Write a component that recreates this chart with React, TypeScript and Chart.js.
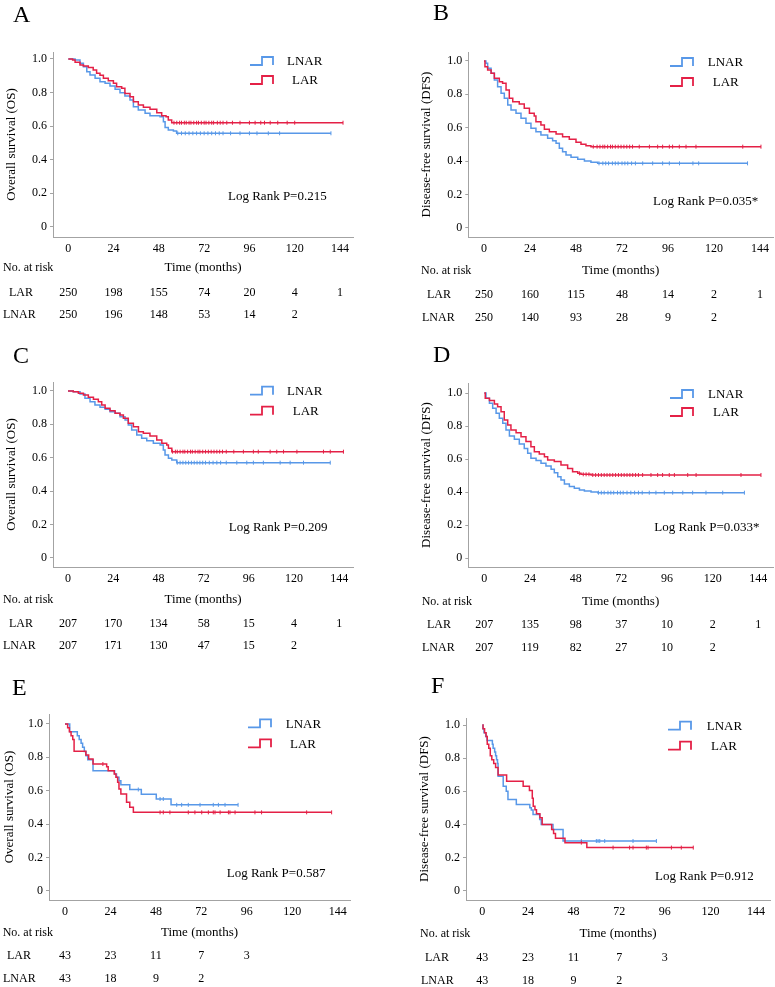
import React, { useEffect, useRef } from "react";
import { Chart, registerables } from "chart.js";

Chart.register(...registerables);

type Pt = [number, number];

// ---------- shared axis ticks ----------
const TIME_TICKS = [0, 24, 48, 72, 96, 120, 144];
const SURV_TICKS = [0, 0.2, 0.4, 0.6, 0.8, 1.0];

// ---------- Panel A (OS, all) ----------
const A_LAR: Pt[] = [[0,1],[2.3,0.994],[3.6,0.98],[6.2,0.964],[8,0.958],[10.6,0.95],[13.2,0.934],[15,0.915],[16.8,0.903],[18.6,0.885],[21.2,0.871],[23.9,0.855],[25.6,0.835],[28.3,0.825],[30,0.795],[32.7,0.775],[34.5,0.745],[37.1,0.726],[39.8,0.712],[43.3,0.7],[46.9,0.68],[49.5,0.662],[51.8,0.656],[53,0.636],[54.8,0.62],[145.6,0.62]];
const A_LNAR: Pt[] = [[0,1],[3.6,0.994],[6.2,0.974],[8,0.954],[9.8,0.924],[11.5,0.904],[14.2,0.885],[16.8,0.865],[19.5,0.855],[22.1,0.839],[24.8,0.819],[27.4,0.799],[30,0.779],[32.7,0.755],[34.5,0.716],[37.1,0.696],[40.7,0.676],[43.3,0.662],[48.6,0.656],[50.4,0.626],[51.3,0.592],[53,0.576],[55.7,0.57],[57.4,0.557],[139.2,0.557]];
const A_LAR_CENS = [56,57.5,59,60,61.5,62.5,64,65,66.5,68,69,70.5,72,73,74.5,76,77,79,80.5,82,84,87,91,96,99,102,104,107,111,116,120,145.6];
const A_LNAR_CENS = [58,60,62,64,66,68,70,72,74,76,78,80,82,86,91,96,100,106,112,139.2];
const A_RISK_LAR = [250,198,155,74,20,4,1];
const A_RISK_LNAR = [250,196,148,53,14,2];

// ---------- Panel B (DFS, all) ----------
const B_LAR: Pt[] = [[0,1],[0.5,0.966],[1.9,0.946],[3.7,0.926],[5.4,0.896],[8,0.876],[9.7,0.866],[11.5,0.826],[13.2,0.776],[15,0.756],[18.4,0.742],[21,0.716],[23.7,0.686],[26.2,0.67],[27.1,0.636],[29.7,0.616],[31.5,0.59],[34.1,0.576],[37.6,0.562],[41,0.546],[44.5,0.53],[48,0.512],[50.6,0.5],[53.2,0.492],[55.8,0.486],[144.5,0.486]];
const B_LNAR: Pt[] = [[0,1],[1,0.986],[1.9,0.956],[3.7,0.926],[5.4,0.886],[7.1,0.846],[8.9,0.806],[10.6,0.776],[12.4,0.736],[14.1,0.706],[16.7,0.686],[19.3,0.656],[21.9,0.626],[24.5,0.596],[27.1,0.576],[29.7,0.556],[33.2,0.536],[35.8,0.522],[37.6,0.506],[39.3,0.476],[41,0.456],[42.8,0.436],[45.4,0.422],[48.9,0.41],[52.4,0.4],[55.8,0.392],[59.3,0.386],[137.5,0.386]];
const B_LAR_CENS = [57,59,60.5,62,63,64.5,66,67,68.5,70,71.5,73,74.5,76,77.5,81,86.3,90.6,93.2,96.7,98.4,101.9,105.4,110.6,135,144.5];
const B_LNAR_CENS = [60,62,63.5,65,67,68.5,70,72,73.5,75,77,79,82.8,88,93.2,96.7,102,109,112,137.5];
const B_RISK_LAR = [250,160,115,48,14,2,1];
const B_RISK_LNAR = [250,140,93,28,9,2];

// ---------- Panel C (OS, matched) ----------
const C_LAR: Pt[] = [[0,1],[2.8,0.996],[5.5,0.986],[8.2,0.976],[10.8,0.962],[13.5,0.95],[16.1,0.936],[17.9,0.916],[19.7,0.896],[22.3,0.882],[25,0.866],[27.6,0.856],[29.4,0.836],[32,0.806],[34.7,0.786],[37.4,0.756],[40,0.746],[43.5,0.73],[47.1,0.706],[49.8,0.686],[52.4,0.676],[53.3,0.656],[55.1,0.636],[146.2,0.636]];
const C_LNAR: Pt[] = [[0,1],[2.8,0.996],[6.4,0.982],[9,0.956],[11.7,0.936],[14.3,0.916],[17,0.902],[19.7,0.89],[22.3,0.876],[25,0.866],[27.6,0.846],[30.3,0.826],[32,0.796],[33.8,0.766],[36.5,0.736],[39.1,0.716],[41.8,0.702],[45.3,0.686],[48.9,0.676],[50.6,0.646],[51.5,0.616],[53.3,0.596],[55.1,0.586],[57.7,0.57],[139.2,0.57]];
const C_LAR_CENS = [55.5,57,58,59.5,61,62,63.5,65,66,67.5,69,70,71.5,73,74.5,76,77.5,79,80.5,82,84,88,93.1,98.4,101,107.3,110.8,114.4,121.5,135.6,139.2,146.2];
const C_LNAR_CENS = [58,59.5,61,62.5,64,65.5,67,68.5,70,71.5,73,75,77,79,81,84,89.6,94.9,98.4,103.7,112.6,117.9,125,139.2];
const C_RISK_LAR = [207,170,134,58,15,4,1];
const C_RISK_LNAR = [207,171,130,47,15,2];

// ---------- Panel D (DFS, matched) ----------
const D_LAR: Pt[] = [[0,1],[0.5,0.968],[2.7,0.954],[5.3,0.934],[7,0.917],[8.8,0.887],[10.5,0.837],[12.3,0.806],[14,0.776],[16.7,0.76],[19.3,0.736],[21.9,0.706],[24.5,0.675],[26.3,0.645],[28.9,0.631],[31.6,0.615],[33.3,0.595],[36.8,0.585],[40.3,0.564],[43.8,0.544],[46.4,0.524],[49.1,0.514],[50.8,0.508],[56.1,0.504],[145.4,0.504]];
const D_LNAR: Pt[] = [[0,1],[0.9,0.968],[2.7,0.938],[4.4,0.907],[6.2,0.877],[7.9,0.847],[9.7,0.817],[11.4,0.776],[13.2,0.74],[15.8,0.72],[18.4,0.692],[21,0.665],[22.8,0.635],[24.5,0.605],[27.2,0.591],[29.8,0.575],[32.4,0.559],[35.1,0.539],[36.8,0.518],[38.6,0.494],[40.3,0.474],[42.1,0.45],[44.7,0.434],[47.3,0.424],[50,0.413],[52.6,0.407],[56.1,0.401],[59.6,0.397],[136.7,0.397]];
const D_LAR_CENS = [50,52,53.5,55,57,58.5,60,61.5,63,64.5,66,67.5,69,70.5,72,73.5,75,76.5,78,79.5,81,83.2,87.6,91.1,93.7,97.2,99.9,106.9,111.3,134.9,145.4];
const D_LNAR_CENS = [60,61.5,63,65,66.5,68,70,71.5,73,75,77,79,81,83,86.7,90.2,94.6,99,104.3,109.5,116.5,125.3,136.7];
const D_RISK_LAR = [207,135,98,37,10,2,1];
const D_RISK_LNAR = [207,119,82,27,10,2];

// ---------- Panel E (OS, subgroup) ----------
const E_LAR: Pt[] = [[0,1],[1.4,0.977],[2.3,0.953],[3.2,0.93],[4.1,0.907],[4.8,0.837],[11,0.814],[12.5,0.79],[14.8,0.76],[22,0.744],[22.8,0.72],[26,0.7],[26.9,0.68],[27.8,0.65],[28.5,0.61],[29.5,0.58],[32.5,0.53],[34.2,0.5],[36.1,0.47],[140.8,0.47]];
const E_LNAR: Pt[] = [[0,1],[2.5,0.953],[6.5,0.93],[7.5,0.907],[8.5,0.884],[9.3,0.86],[10.2,0.835],[11.1,0.81],[12,0.785],[14.8,0.72],[26.2,0.7],[27.2,0.68],[28.5,0.66],[29.5,0.635],[34.2,0.607],[40.3,0.578],[48.2,0.55],[56,0.515],[91.4,0.515]];
const E_LAR_CENS = [20,50.2,51.9,55.4,65.1,68.6,72.2,75.7,78.3,79.2,81.9,86.3,87.1,89.8,100.3,103.8,127.6,140.8];
const E_LNAR_CENS = [38.7,50.2,51.9,59,61.6,65.1,71.3,78.3,81,84.5,91.4];
const E_RISK_LAR = [43,23,11,7,3];
const E_RISK_LNAR = [43,18,9,2];

// ---------- Panel F (DFS, subgroup) ----------
const F_LAR: Pt[] = [[0,1],[0.4,0.977],[1.2,0.953],[2,0.93],[2.6,0.884],[3.4,0.86],[4.2,0.814],[5,0.79],[6,0.767],[7,0.744],[8.3,0.698],[12.8,0.66],[21.5,0.63],[24.8,0.605],[26.3,0.558],[26.8,0.51],[27.7,0.488],[28.5,0.465],[30.3,0.44],[31.5,0.4],[36.5,0.37],[37.5,0.345],[38.5,0.316],[43.5,0.29],[55,0.26],[111,0.26]];
const F_LNAR: Pt[] = [[0,1],[0.3,0.977],[0.9,0.953],[1.8,0.93],[2.5,0.907],[5.3,0.884],[5.7,0.86],[6.5,0.837],[7,0.814],[7.5,0.79],[8,0.767],[8.3,0.69],[11,0.63],[12.6,0.6],[13.5,0.55],[17.9,0.52],[25,0.5],[25.8,0.487],[26.7,0.46],[30.2,0.43],[31,0.4],[37.2,0.37],[42.5,0.3],[91.6,0.3]];
const F_LAR_CENS = [52.1,68.8,77.5,79.3,86.3,87.2,99.5,104.7,111];
const F_LNAR_CENS = [52.1,60,60.9,61.8,64.4,79.3,91.6];
const F_RISK_LAR = [43,23,11,7,3];
const F_RISK_LNAR = [43,18,9,2];

const OS_TITLE = "Overall survival (OS)";
const DFS_TITLE = "Disease-free survival (DFS)";

// ---------- styling / layout ----------
const FONT = '"Liberation Serif", "Times New Roman", serif';
const BLUE = "rgb(88,152,232)";
const RED = "rgb(228,32,70)";
const AXIS = "#a3a3a3";

interface PanelCfg {
  letter: string;
  x: number; y: number; w: number; h: number;
  area: { l: number; t: number; r: number; b: number };
  x0: number; x144: number; y1: number; y0: number;
  letterX: number; letterY: number;
  yTitle: string; yTitleX: number; xTitleY: number;
  legGlyphX: number; legTextX: [number, number]; legY: [number, number];
  logRank: string; lrX: number; lrY: number;
  riskHeadX: number; riskLabX: [number, number]; riskY: [number, number];
  lar: Pt[]; lnar: Pt[]; larC: number[]; lnarC: number[];
  riskLar: number[]; riskLnar: number[];
}

const PANELS: PanelCfg[] = [
  { letter: "A", x: 0, y: 0, w: 385, h: 330, area: { l: 53, t: 52, r: 353, b: 237 }, x0: 68.3, x144: 340, y1: 59, y0: 226.7,
    letterX: 13, letterY: 21.5, yTitle: OS_TITLE, yTitleX: 12, xTitleY: 268,
    legGlyphX: 250, legTextX: [287, 292], legY: [62, 81], logRank: "Log Rank P=0.215", lrX: 228, lrY: 197,
    riskHeadX: 3, riskLabX: [9, 3], riskY: [293, 315],
    lar: A_LAR, lnar: A_LNAR, larC: A_LAR_CENS, lnarC: A_LNAR_CENS, riskLar: A_RISK_LAR, riskLnar: A_RISK_LNAR },
  { letter: "B", x: 385, y: 0, w: 390, h: 330, area: { l: 83.3, t: 52, r: 388, b: 237 }, x0: 99, x144: 375, y1: 61, y0: 227.7,
    letterX: 48, letterY: 20, yTitle: DFS_TITLE, yTitleX: 41.7, xTitleY: 271,
    legGlyphX: 285, legTextX: [322.7, 327.7], legY: [63, 83], logRank: "Log Rank P=0.035*", lrX: 268, lrY: 202,
    riskHeadX: 36, riskLabX: [42, 37], riskY: [295, 318],
    lar: B_LAR, lnar: B_LNAR, larC: B_LAR_CENS, lnarC: B_LNAR_CENS, riskLar: B_RISK_LAR, riskLnar: B_RISK_LNAR },
  { letter: "C", x: 0, y: 320, w: 385, h: 340, area: { l: 53, t: 62, r: 353, b: 247 }, x0: 68, x144: 339.3, y1: 71, y0: 237.7,
    letterX: 13, letterY: 43, yTitle: OS_TITLE, yTitleX: 12, xTitleY: 280,
    legGlyphX: 250, legTextX: [287, 292.7], legY: [71.7, 91.7], logRank: "Log Rank P=0.209", lrX: 228.7, lrY: 207.3,
    riskHeadX: 3, riskLabX: [9, 3], riskY: [304, 326],
    lar: C_LAR, lnar: C_LNAR, larC: C_LAR_CENS, lnarC: C_LNAR_CENS, riskLar: C_RISK_LAR, riskLnar: C_RISK_LNAR },
  { letter: "D", x: 385, y: 320, w: 390, h: 340, area: { l: 83.3, t: 63, r: 388, b: 247 }, x0: 99.3, x144: 373.3, y1: 73, y0: 238.3,
    letterX: 48, letterY: 42, yTitle: DFS_TITLE, yTitleX: 41.7, xTitleY: 282,
    legGlyphX: 285, legTextX: [323, 328], legY: [75, 93], logRank: "Log Rank P=0.033*", lrX: 269.3, lrY: 207.3,
    riskHeadX: 36.7, riskLabX: [42, 37], riskY: [305, 328],
    lar: D_LAR, lnar: D_LNAR, larC: D_LAR_CENS, lnarC: D_LNAR_CENS, riskLar: D_RISK_LAR, riskLnar: D_RISK_LNAR },
  { letter: "E", x: 0, y: 640, w: 385, h: 347, area: { l: 49, t: 74, r: 350, b: 260 }, x0: 65, x144: 337.7, y1: 84, y0: 250.7,
    letterX: 12, letterY: 55, yTitle: OS_TITLE, yTitleX: 10, xTitleY: 293,
    legGlyphX: 248, legTextX: [285.7, 290], legY: [84.3, 104.3], logRank: "Log Rank P=0.587", lrX: 226.7, lrY: 233.3,
    riskHeadX: 2.7, riskLabX: [7, 3], riskY: [316, 339.3],
    lar: E_LAR, lnar: E_LNAR, larC: E_LAR_CENS, lnarC: E_LNAR_CENS, riskLar: E_RISK_LAR, riskLnar: E_RISK_LNAR },
  { letter: "F", x: 385, y: 640, w: 390, h: 347, area: { l: 81, t: 78, r: 385, b: 260 }, x0: 97.3, x144: 371, y1: 85, y0: 250.7,
    letterX: 46, letterY: 53, yTitle: DFS_TITLE, yTitleX: 40, xTitleY: 294,
    legGlyphX: 283, legTextX: [321.7, 326], legY: [86.7, 106.7], logRank: "Log Rank P=0.912", lrX: 270, lrY: 236.7,
    riskHeadX: 35, riskLabX: [40, 36], riskY: [318.3, 340.7],
    lar: F_LAR, lnar: F_LNAR, larC: F_LAR_CENS, lnarC: F_LNAR_CENS, riskLar: F_RISK_LAR, riskLnar: F_RISK_LNAR },
];

function stepValue(curve: Pt[], t: number): number {
  let v = curve[0][1];
  for (const [x, y] of curve) {
    if (x <= t + 1e-9) v = y;
    else break;
  }
  return v;
}

function makeDecor(p: PanelCfg) {
  return {
    id: "kmDecor" + p.letter,
    afterDraw(chart: any) {
      const ctx: CanvasRenderingContext2D = chart.ctx;
      const xs = chart.scales.x;
      ctx.save();
      ctx.fillStyle = "#000";
      // panel letter
      ctx.font = `24px ${FONT}`;
      ctx.textAlign = "left";
      ctx.textBaseline = "alphabetic";
      ctx.fillText(p.letter, p.letterX, p.letterY);

      // legend with step glyphs
      const legItems: [string, string][] = [["LNAR", BLUE], ["LAR", RED]];
      legItems.forEach(([name, col], i) => {
        const ty = p.legY[i];
        const gx = p.legGlyphX;
        ctx.strokeStyle = col;
        ctx.lineWidth = 1.8;
        ctx.beginPath();
        ctx.moveTo(gx, ty + 3);
        ctx.lineTo(gx + 12, ty + 3);
        ctx.lineTo(gx + 12, ty - 5);
        ctx.lineTo(gx + 23, ty - 5);
        ctx.lineTo(gx + 23, ty + 3);
        ctx.stroke();
        ctx.fillStyle = "#000";
        ctx.font = `13px ${FONT}`;
        ctx.textBaseline = "middle";
        ctx.textAlign = "left";
        ctx.fillText(name, p.legTextX[i], ty);
      });

      // log-rank text
      ctx.font = `13px ${FONT}`;
      ctx.textBaseline = "middle";
      ctx.textAlign = "left";
      ctx.fillText(p.logRank, p.lrX, p.lrY);

      // number at risk table
      ctx.font = `12px ${FONT}`;
      ctx.fillText("No. at risk", p.riskHeadX, p.xTitleY);
      const rows: [string, number[]][] = [["LAR", p.riskLar], ["LNAR", p.riskLnar]];
      rows.forEach(([name, vals], i) => {
        const y = p.riskY[i];
        ctx.textAlign = "left";
        ctx.fillText(name, p.riskLabX[i], y);
        ctx.textAlign = "center";
        vals.forEach((v, j) => {
          ctx.fillText(String(v), xs.getPixelForValue(TIME_TICKS[j]), y);
        });
      });
      ctx.restore();
    },
  };
}

function buildChart(canvas: HTMLCanvasElement, p: PanelCfg) {
  const ppx = (p.x144 - p.x0) / 144;
  const xMin = -(p.x0 - p.area.l) / ppx;
  const xMax = 144 + (p.area.r - p.x144) / ppx;
  const ppy = p.y0 - p.y1;
  const yMax = 1 + (p.y1 - p.area.t) / ppy;
  const yMin = -(p.area.b - p.y0) / ppy;
  const toXY = (c: Pt[]) => c.map(([x, y]) => ({ x, y }));
  const cens = (c: Pt[], ts: number[]) => ts.map((t) => ({ x: t, y: stepValue(c, t) }));
  const curve = (label: string, c: Pt[], col: string) => ({
    label, data: toXY(c), borderColor: col, backgroundColor: col, borderWidth: 1.5,
    stepped: "before" as const, pointRadius: 0, fill: false,
  });
  const marks = (label: string, c: Pt[], ts: number[], col: string) => ({
    label, data: cens(c, ts), showLine: false, pointStyle: "line" as const, pointRotation: 90,
    pointRadius: 2, pointBorderWidth: 1, borderColor: col, pointBorderColor: col, backgroundColor: col,
  });
  const tickFont = { family: FONT, size: 12 };
  const titleFont = { family: FONT, size: 13 };

  return new Chart(canvas, {
    type: "line",
    data: {
      datasets: [
        curve("LAR", p.lar, RED),
        marks("LAR censored", p.lar, p.larC, RED),
        curve("LNAR", p.lnar, BLUE),
        marks("LNAR censored", p.lnar, p.lnarC, BLUE),
      ] as any,
    },
    options: {
      responsive: false,
      animation: false,
      events: [],
      layout: { autoPadding: false, padding: { left: 0, top: p.area.t, right: p.w - p.area.r, bottom: 0 } },
      plugins: { legend: { display: false }, tooltip: { enabled: false }, title: { display: false } },
      scales: {
        x: {
          type: "linear",
          min: xMin,
          max: xMax,
          afterBuildTicks: (s: any) => { s.ticks = TIME_TICKS.map((v) => ({ value: v })); },
          afterFit: (s: any) => { s.height = p.h - p.area.b; },
          border: { display: true, color: AXIS, width: 1 },
          grid: { display: true, drawOnChartArea: false, drawTicks: false, color: AXIS },
          ticks: { padding: 5, autoSkip: false, maxRotation: 0, color: "#000", font: tickFont,
            callback: (v: any) => String(v) },
          title: { display: true, text: "Time (months)", color: "#000", font: titleFont,
            padding: { top: 0, bottom: p.h - p.xTitleY - 7.8 } },
        },
        y: {
          type: "linear",
          min: yMin,
          max: yMax,
          afterBuildTicks: (s: any) => { s.ticks = SURV_TICKS.map((v) => ({ value: v })); },
          afterFit: (s: any) => { s.width = p.area.l; },
          border: { display: true, color: AXIS, width: 1 },
          grid: { display: true, drawOnChartArea: false, drawTicks: true, tickLength: 3, color: AXIS },
          ticks: { padding: 3, color: "#000", font: tickFont,
            callback: (v: any) => (Math.abs(Number(v)) < 1e-9 ? "0" : Number(v).toFixed(1)) },
          title: { display: true, text: p.yTitle, color: "#000", font: titleFont,
            padding: { top: p.yTitleX - 7.8, bottom: 0 } },
        },
      },
    } as any,
    plugins: [makeDecor(p)],
  });
}

function Panel({ p }: { p: PanelCfg }) {
  const ref = useRef<HTMLCanvasElement>(null);
  useEffect(() => {
    if (!ref.current) return;
    const c = buildChart(ref.current, p);
    return () => c.destroy();
  }, [p]);
  return (
    <canvas
      ref={ref}
      width={p.w}
      height={p.h}
      style={{ position: "absolute", left: p.x, top: p.y, width: p.w, height: p.h }}
    />
  );
}

export default function App() {
  return (
    <div style={{ position: "relative", width: 775, height: 987, background: "#fff", overflow: "hidden" }}>
      <style>{"body{margin:0;background:#fff}"}</style>
      {PANELS.map((p) => (
        <Panel key={p.letter} p={p} />
      ))}
    </div>
  );
}
